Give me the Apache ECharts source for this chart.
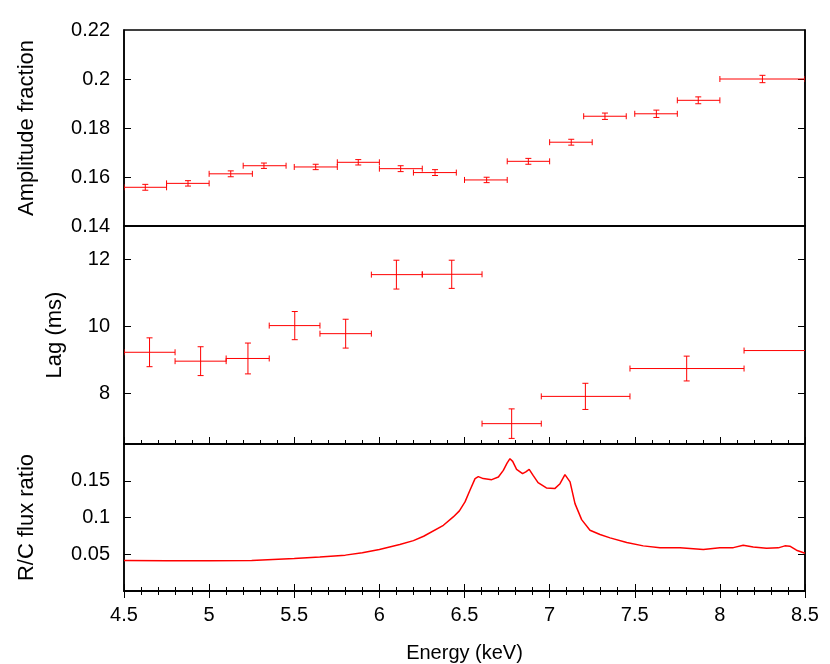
<!DOCTYPE html>
<html>
<head>
<meta charset="utf-8">
<script src="https://cdn.jsdelivr.net/npm/echarts@6/dist/echarts.min.js"></script>
<style>
html,body{margin:0;padding:0;background:#fff;}
#chart{width:830px;height:664px;}
</style>
</head>
<body>
<div id="chart"></div>
<script>
// ---- Top panel: amplitude fraction ----
var ampE    = [4.625,4.876,5.127,5.322,5.626,5.876,6.125,6.327,6.63,6.875,7.127,7.325,7.627,7.873,8.25];
var ampElo  = [4.5,4.75,5.0,5.2,5.5,5.753,6.0,6.2,6.5,6.751,7.0,7.2,7.5,7.75,8.0];
var ampEhi  = [4.75,5.0,5.254,5.452,5.753,6.0,6.252,6.452,6.751,7.0,7.25,7.45,7.75,8.0,8.5];
var ampVal  = [0.1558,0.1574,0.1613,0.1646,0.1641,0.166,0.1634,0.1618,0.1588,0.1664,0.1742,0.1848,0.1858,0.1913,0.2];
var ampErr  = [0.0012,0.0011,0.0012,0.0011,0.0011,0.0011,0.0012,0.0012,0.0011,0.0012,0.0012,0.0013,0.0015,0.0014,0.0015];

// ---- Middle panel: lag ----
var lagE    = [4.65,4.95,5.228,5.503,5.802,6.1,6.425,6.777,7.21,7.805,8.6];
var lagElo  = [4.5,4.8,5.1,5.353,5.651,5.953,6.252,6.603,6.951,7.472,8.142];
var lagEhi  = [4.8,5.1,5.353,5.651,5.953,6.252,6.603,6.951,7.472,8.142,9.06];
var lagVal  = [9.235,8.97,9.05,10.03,9.79,11.55,11.56,7.107,7.92,8.75,9.286];
var lagErr  = [0.43,0.43,0.46,0.42,0.43,0.43,0.42,0.44,0.39,0.37,0.36];

// ---- Bottom panel: R/C flux ratio ----
var rcE = [4.5,4.75,5.0,5.25,5.5,5.65,5.8,5.9,6.0,6.12,6.2,6.26,6.376,6.434,6.47,6.503,6.532,6.562,6.581,6.61,6.66,6.699,6.728,6.75,6.767,6.783,6.806,6.841,6.86,6.88,6.903,6.932,6.981,7.03,7.061,7.09,7.12,7.149,7.188,7.237,7.296,7.355,7.453,7.55,7.648,7.766,7.903,8.0,8.079,8.137,8.196,8.274,8.343,8.382,8.411,8.45,8.5];
var rcVal = [0.0416,0.0412,0.041,0.0415,0.0442,0.0462,0.0488,0.052,0.0565,0.0632,0.0685,0.0745,0.0894,0.1008,0.109,0.1212,0.137,0.1529,0.1556,0.1529,0.1515,0.1551,0.1641,0.174,0.18,0.1764,0.1655,0.1596,0.162,0.1655,0.1573,0.1474,0.1402,0.1393,0.146,0.1583,0.1484,0.1189,0.0971,0.0826,0.0768,0.0723,0.0659,0.0614,0.0587,0.0587,0.0564,0.0587,0.059,0.0622,0.0599,0.0581,0.0587,0.0614,0.061,0.0555,0.0514];

// ---- Tick labels ----
var xTicks   = [4.5,5,5.5,6,6.5,7,7.5,8,8.5];
var ampLabels = [0.14,0.16,0.18,0.2,0.22];
var ampTicks  = [0.16,0.18,0.2];
var lagTicks  = [8,10,12];
var rcTicks   = [0.05,0.1,0.15];

var FONT = 'Liberation Sans, Arial, Helvetica, sans-serif';
var RED = '#ff0000';

function buildErr(e, elo, ehi, v, err){
  var out = [];
  for (var i = 0; i < e.length; i++) out.push([e[i], v[i], elo[i], ehi[i], v[i]-err[i], v[i]+err[i]]);
  return out;
}
function pairs(a, b){ var o=[]; for (var i=0;i<a.length;i++) o.push([a[i], b[i]]); return o; }

function errRender(params, api){
  var x = api.value(0), y = api.value(1), xl = api.value(2), xh = api.value(3), yl = api.value(4), yh = api.value(5);
  var pL = api.coord([xl, y]), pR = api.coord([xh, y]);
  var pT = api.coord([x, yh]), pB = api.coord([x, yl]);
  var c = 3;
  var st = {stroke: RED, lineWidth: 1, fill: null};
  function ln(x1,y1,x2,y2){ return {type:'line', shape:{x1:x1,y1:y1,x2:x2,y2:y2}, style:st}; }
  return {type:'group', children:[
    ln(pL[0], pL[1], pR[0], pR[1]),
    ln(pL[0], pL[1]-c, pL[0], pL[1]+c),
    ln(pR[0], pR[1]-c, pR[0], pR[1]+c),
    ln(pT[0], pT[1], pB[0], pB[1]),
    ln(pT[0]-c, pT[1], pT[0]+c, pT[1]),
    ln(pB[0]-c, pB[1], pB[0]+c, pB[1])
  ]};
}

var L = 124, R = 25;
var axisLineS = {show:true, lineStyle:{color:'#000', width:1.5}};
function xAx(grid, pos, showTicks, showLabels){
  return {
    type:'value', gridIndex:grid, position:pos, min:4.5, max:8.5, interval:0.5,
    axisLine: axisLineS,
    axisTick: {show:showTicks, inside:true, length:7, lineStyle:{color:'#000', width:1}},
    minorTick: {show:showTicks, splitNumber:5, length:4, lineStyle:{color:'#000', width:1}},
    splitLine: {show:false},
    axisLabel: {show:showLabels, color:'#000', fontFamily:FONT, fontSize:20, margin:14,
      customValues: xTicks, formatter:function(v){ return String(+v.toFixed(1)); }}
  };
}
function yAx(grid, pos, min, max, labels, ticks, dec, name, gap){
  var left = pos === 'left';
  return {
    type:'value', gridIndex:grid, position:pos, min:min, max:max,
    name: left ? name : '', nameLocation:'middle', nameGap:gap, nameRotate:90,
    nameTextStyle:{color:'#000', fontFamily:FONT, fontSize:22},
    axisLine: axisLineS,
    axisTick: {show:true, inside:true, length:7, customValues:ticks, lineStyle:{color:'#000', width:1}},
    splitLine: {show:false},
    axisLabel: {show:left, color:'#000', fontFamily:FONT, fontSize:20, margin:14,
      customValues: labels, formatter:function(v){ return String(+v.toFixed(dec)); }}
  };
}

var chart = echarts.init(document.getElementById('chart'), null, {renderer:'canvas'});
chart.setOption({
  animation:false,
  backgroundColor:'#fff',
  grid:[
    {left:L, right:R, top:30, height:196, show:true, borderColor:'#000', borderWidth:1.5},
    {left:L, right:R, top:226, height:218, show:true, borderColor:'#000', borderWidth:1.5},
    {left:L, right:R, top:444, height:149, show:true, borderColor:'#000', borderWidth:1.5}
  ],
  xAxis:[
    xAx(0,'bottom',false,false),
    xAx(1,'bottom',true,false),
    (function(){ var a = xAx(2,'bottom',true,true); a.name='Energy (keV)'; a.nameLocation='middle'; a.nameGap=52;
      a.nameTextStyle={color:'#000', fontFamily:FONT, fontSize:20}; return a; })(),
    xAx(2,'top',true,false)
  ],
  yAxis:[
    yAx(0,'left',0.14,0.22,ampLabels,ampTicks,2,'Amplitude fraction',86),
    yAx(0,'right',0.14,0.22,ampLabels,ampTicks,2,'',0),
    yAx(1,'left',6.5,13,lagTicks,lagTicks,0,'Lag (ms)',58),
    yAx(1,'right',6.5,13,lagTicks,lagTicks,0,'',0),
    yAx(2,'left',0,0.2,rcTicks,rcTicks,2,'R/C flux ratio',86),
    yAx(2,'right',0,0.2,rcTicks,rcTicks,2,'',0)
  ],
  series:[
    {type:'custom', xAxisIndex:0, yAxisIndex:0, clip:true, renderItem:errRender,
      encode:{x:0,y:1}, data: buildErr(ampE, ampElo, ampEhi, ampVal, ampErr)},
    {type:'custom', xAxisIndex:1, yAxisIndex:2, clip:true, renderItem:errRender,
      encode:{x:0,y:1}, data: buildErr(lagE, lagElo, lagEhi, lagVal, lagErr)},
    {type:'line', xAxisIndex:2, yAxisIndex:4, showSymbol:false, clip:true,
      lineStyle:{color:RED, width:1.5}, itemStyle:{color:RED}, data: pairs(rcE, rcVal)}
  ]
});
</script>
</body>
</html>
